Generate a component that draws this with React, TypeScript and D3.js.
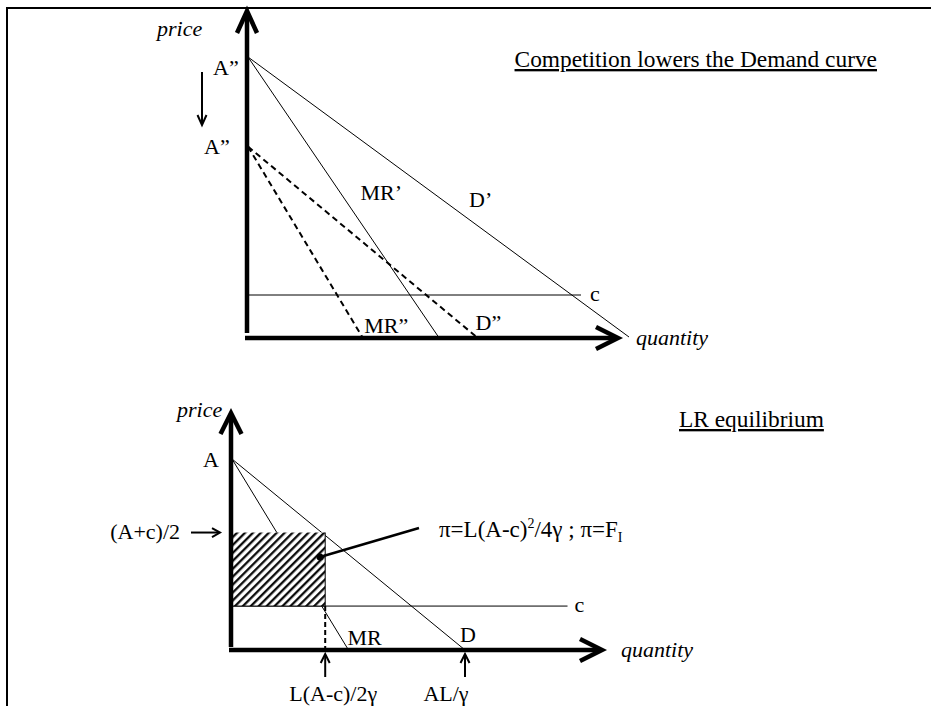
import React from "react";
import * as d3 from "d3";

// ---------- data ----------
// top panel: two demand curves (before / after competition)
const topLabelsA = ["A\u201D", "A\u201D"];
const topPriceIntercepts = [10, 6.8]; // A', A''
const topDemandQty = [10, 6]; // D', D'' quantity intercepts
const topMRQty = [5, 3]; // MR', MR'' quantity intercepts
const topDemandLabels = ["D\u2019", "D\u201D"];
const topMRLabels = ["MR\u2019", "MR\u201D"];
const topCost = 1.5;
const topCostEnd = 8.74;

// bottom panel: long-run equilibrium
const botA = 10;
const botC = 2.3;
const botQStar = 4; // L(A-c)/2γ
const botQD = 10; // AL/γ
const botQMR = 5;
const botCostEnd = 14.4;
const botTickLabels = ["L(A-c)/2\u03B3", "AL/\u03B3"];

const W = 931;
const H = 706;
const FONT = "'Liberation Serif', 'Times New Roman', serif";

export default function App() {
  // scales
  const tx = d3.scaleLinear().domain([0, 10]).range([248, 629]);
  const ty = d3.scaleLinear().domain([0, 10]).range([337, 57]);
  const bx = d3.scaleLinear().domain([0, 10]).range([232, 465]);
  const by = d3.scaleLinear().domain([0, 10]).range([650, 459]);
  const line = d3.line<[number, number]>();

  const mid = (botA + botC) / 2;

  const chevron = (tipX: number, tipY: number, dir: "up" | "right" | "down", back: number, out: number) => {
    if (dir === "up") return `M${tipX - out},${tipY + back}L${tipX},${tipY}L${tipX + out},${tipY + back}`;
    if (dir === "down") return `M${tipX - out},${tipY - back}L${tipX},${tipY}L${tipX + out},${tipY - back}`;
    return `M${tipX - back},${tipY - out}L${tipX},${tipY}L${tipX - back},${tipY + out}`;
  };

  const txt = { fontFamily: FONT, fontSize: 22, fill: "#000" } as const;

  const rx = bx(0);
  const ry = by(mid);
  const rw = bx(botQStar) - bx(0);
  const rh = by(botC) - by(mid);

  return (
    <svg
      width={W}
      height={H}
      viewBox={`0 0 ${W} ${H}`}
      style={{ position: "absolute", left: 0, top: 0, background: "#fff" }}
    >
      <defs>
        <pattern id="hatch" patternUnits="userSpaceOnUse" width={5.6} height={5.6} patternTransform="rotate(45)">
          <line x1={1.2} y1={-1} x2={1.2} y2={7} stroke="#000" strokeWidth={2.2} />
        </pattern>
      </defs>
      <rect x={0} y={0} width={W} height={H} fill="#fff" />
      {/* frame */}
      <path d={`M7,${H}L7,8L${W},8`} fill="none" stroke="#000" strokeWidth={2} />

      {/* ================= TOP PANEL ================= */}
      <text x={877} y={67} textAnchor="end" style={{ ...txt, fontSize: 23.4, textDecoration: "underline" }}>
        Competition lowers the Demand curve
      </text>

      {/* c line */}
      <path d={line([[tx(0), ty(topCost)], [tx(topCostEnd), ty(topCost)]]) || ""} stroke="#000" strokeWidth={1} />
      <text x={tx(topCostEnd) + 9} y={ty(topCost) + 6} style={txt}>c</text>

      {/* demand and MR curves */}
      {topPriceIntercepts.map((a, i) => (
        <g key={i}>
          <path
            d={line([[tx(0), ty(a)], [tx(topDemandQty[i]), ty(0)]]) || ""}
            stroke="#000"
            strokeWidth={i === 0 ? 1 : 2}
            strokeDasharray={i === 0 ? undefined : "6,4"}
            fill="none"
          />
          <path
            d={line([[tx(0), ty(a)], [tx(topMRQty[i]), ty(0)]]) || ""}
            stroke="#000"
            strokeWidth={i === 0 ? 1 : 2}
            strokeDasharray={i === 0 ? undefined : "6,4"}
            fill="none"
          />
        </g>
      ))}

      {/* curve labels */}
      <text x={tx(topMRQty[0]) - 78} y={200} style={txt}>{topMRLabels[0]}</text>
      <text x={tx(topDemandQty[0]) - 160} y={207} style={txt}>{topDemandLabels[0]}</text>
      <text x={tx(topMRQty[1]) + 2} y={ty(0) - 4} style={txt}>{topMRLabels[1]}</text>
      <text x={tx(topDemandQty[1]) - 1} y={ty(0) - 7} style={txt}>{topDemandLabels[1]}</text>

      {/* A labels */}
      <text x={213} y={ty(topPriceIntercepts[0]) + 18} style={txt}>{topLabelsA[0]}</text>
      <text x={204} y={ty(topPriceIntercepts[1]) + 7} style={txt}>{topLabelsA[1]}</text>

      {/* down arrow */}
      <path d="M202,72L202,124" stroke="#000" strokeWidth={2} />
      <path d={chevron(202, 125, "down", 10, 4.5)} stroke="#000" strokeWidth={2} fill="none" />

      {/* axes */}
      <path d={`M${tx(0) - 1},333L${tx(0) - 1},12`} stroke="#000" strokeWidth={4.5} />
      <path d={chevron(tx(0) - 1, 11, "up", 22, 10)} stroke="#000" strokeWidth={4.5} fill="none" />
      <path d={`M${tx(0) - 3},338L616,338`} stroke="#000" strokeWidth={4.5} />
      <path d={chevron(618, 338, "right", 22, 11)} stroke="#000" strokeWidth={4.5} fill="none" />
      <text x={157} y={36} style={{ ...txt, fontStyle: "italic" }}>price</text>
      <text x={636} y={345} style={{ ...txt, fontStyle: "italic" }}>quantity</text>

      {/* ================= BOTTOM PANEL ================= */}
      <text x={679} y={427} style={{ ...txt, fontSize: 23.4, textDecoration: "underline" }}>LR equilibrium</text>

      {/* MR (behind hatch) */}
      <path d={line([[bx(0), by(botA)], [bx(botQMR), by(0)]]) || ""} stroke="#000" strokeWidth={1} fill="none" />
      {/* D */}
      <path d={line([[bx(0), by(botA)], [bx(botQD), by(0)]]) || ""} stroke="#000" strokeWidth={1} fill="none" />
      {/* c line */}
      <path d={line([[bx(0), by(botC)], [bx(botCostEnd), by(botC)]]) || ""} stroke="#000" strokeWidth={1} />
      <text x={bx(botCostEnd) + 7} y={by(botC) + 6} style={txt}>c</text>

      {/* profit rectangle */}
      <rect x={rx} y={ry} width={rw} height={rh} fill="#fff" />
      <rect x={rx} y={ry} width={rw} height={rh} fill="url(#hatch)" />
      <path d={`M${rx},${ry + rh}L${rx + rw},${ry + rh}L${rx + rw},${ry}`} fill="none" stroke="#000" strokeWidth={1} />
      {/* dashed drop line */}
      <path d={line([[bx(botQStar), by(botC)], [bx(botQStar), by(0)]]) || ""} stroke="#000" strokeWidth={2} strokeDasharray="5,3" />

      {/* labels */}
      <text x={bx(botQMR) - 1} y={645} style={txt}>MR</text>
      <text x={bx(botQD) - 5} y={642} style={txt}>D</text>
      <text x={203} y={by(botA) + 8} style={txt}>A</text>
      <text x={180} y={by(mid) + 6} textAnchor="end" style={txt}>(A+c)/2</text>
      <path d={`M191,${by(mid)}L218,${by(mid)}`} stroke="#000" strokeWidth={2} />
      <path d={chevron(220, by(mid), "right", 8, 4.5)} stroke="#000" strokeWidth={2} fill="none" />

      {/* pointer */}
      <path d="M320,557L419,528" stroke="#000" strokeWidth={2.5} />
      <circle cx={320} cy={557} r={3.5} fill="#000" />
      <text x={439} y={537} style={{ ...txt, fontSize: 23 }}>
        {"\u03C0=L(A-c)"}
        <tspan dy={-9} fontSize={14}>2</tspan>
        <tspan dy={9}>{"/4\u03B3 ; \u03C0=F"}</tspan>
        <tspan dy={5} fontSize={14}>I</tspan>
      </text>

      {/* axes */}
      <path d={`M${bx(0) - 1},647L${bx(0) - 1},414`} stroke="#000" strokeWidth={4.5} />
      <path d={chevron(bx(0) - 1, 413, "up", 21, 10.5)} stroke="#000" strokeWidth={4.5} fill="none" />
      <path d={`M${bx(0) - 3},650L600,650`} stroke="#000" strokeWidth={4.5} />
      <path d={chevron(602, 650, "right", 22, 11)} stroke="#000" strokeWidth={4.5} fill="none" />
      <text x={177} y={417} style={{ ...txt, fontStyle: "italic" }}>price</text>
      <text x={621} y={657} style={{ ...txt, fontStyle: "italic" }}>quantity</text>

      {/* tick arrows and labels */}
      {[botQStar, botQD].map((q, i) => (
        <g key={i}>
          <path d={`M${bx(q)},677L${bx(q)},655`} stroke="#000" strokeWidth={2} />
          <path d={chevron(bx(q), 654, "up", 9, 4.5)} stroke="#000" strokeWidth={2} fill="none" />
          <text x={bx(q) + (i === 0 ? 8 : -19)} y={701} textAnchor="middle" style={txt}>{botTickLabels[i]}</text>
        </g>
      ))}
    </svg>
  );
}
